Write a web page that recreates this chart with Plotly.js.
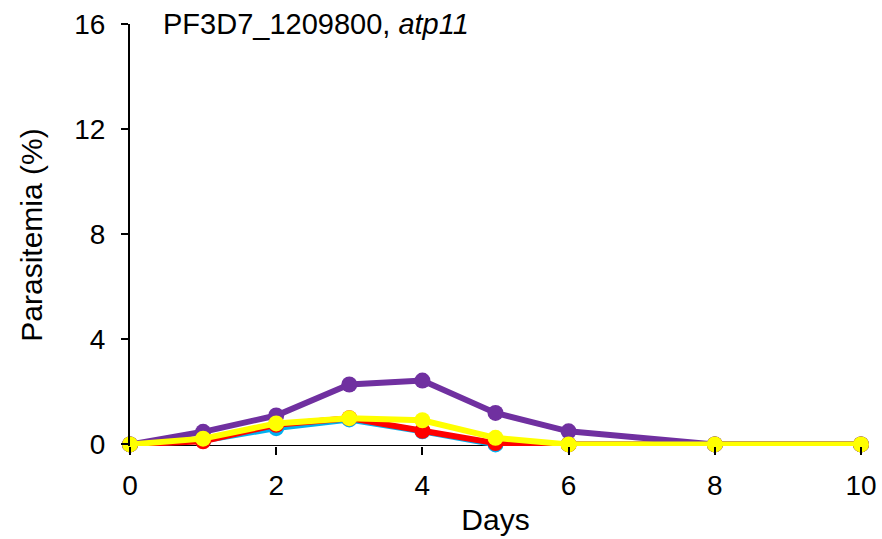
<!DOCTYPE html>
<html><head><meta charset="utf-8">
<script src="https://cdn.plot.ly/plotly-3.0.1.min.js"></script>
<style>html,body{margin:0;padding:0;background:#fff}</style>
</head><body>
<div id="chart" style="width:882px;height:539px"></div>
<script>
const days = [0, 1, 2, 3, 4, 5, 6, 8, 10];
const blueVals   = [0, 0.15, 0.62, 0.95, 0.50, 0.00, 0, 0, 0];
const redVals    = [0, 0.12, 0.75, 1.00, 0.52, 0.05, 0, 0, 0];
const purpleVals = [0, 0.48, 1.10, 2.28, 2.43, 1.20, 0.50, 0, 0];
const yellowVals = [0, 0.22, 0.80, 1.00, 0.92, 0.25, 0, 0, 0];
const xTicks = [0, 2, 4, 6, 8, 10];
const yTicks = [0, 4, 8, 12, 16];

function tr(y, color){
  return {x: days, y: y, type:'scatter', mode:'lines+markers',
    line:{color:color, width:6}, marker:{color:color, size:16}, showlegend:false, cliponaxis:false};
}
const data = [tr(blueVals,'#00B0F0'), tr(redVals,'#FF0000'), tr(purpleVals,'#7030A0'), tr(yellowVals,'#FFFF00')];
const font = 'Liberation Sans, Arial, sans-serif';
const layout = {
  width:882, height:539,
  margin:{l:130, r:21, t:24, b:93},
  paper_bgcolor:'#fff', plot_bgcolor:'#fff',
  font:{family:font, color:'#000'},
  xaxis:{range:[0,10], tickvals:xTicks, ticks:'outside', ticklen:8, tickwidth:2, tickcolor:'#000',
    showgrid:false, zeroline:false, showline:false, tickfont:{size:28}, ticklabelstandoff:6,
    title:{text:'Days', font:{size:30}, standoff:9}},
  yaxis:{range:[-0.06,16], tickvals:yTicks, ticks:'outside', ticklen:7, tickwidth:2, tickcolor:'#000',
    showgrid:false, zeroline:false, showline:true, linecolor:'#000', linewidth:2, tickfont:{size:28}, ticklabelstandoff:10,
    title:{text:'Parasitemia (%)', font:{size:30}, standoff:23}},
  shapes:[{type:'line', xref:'paper', yref:'y', x0:0, x1:1, y0:-0.06, y1:-0.06, line:{color:'#000', width:2}, layer:'below'}],
  annotations:[{xref:'paper', yref:'paper', x:0.0425, y:1.0, xanchor:'left', yanchor:'middle',
    text:'PF3D7_1209800, <i>atp11</i>', showarrow:false, font:{size:29, family:font}}]
};
Plotly.newPlot('chart', data, layout, {displayModeBar:false});
</script>
</body></html>
